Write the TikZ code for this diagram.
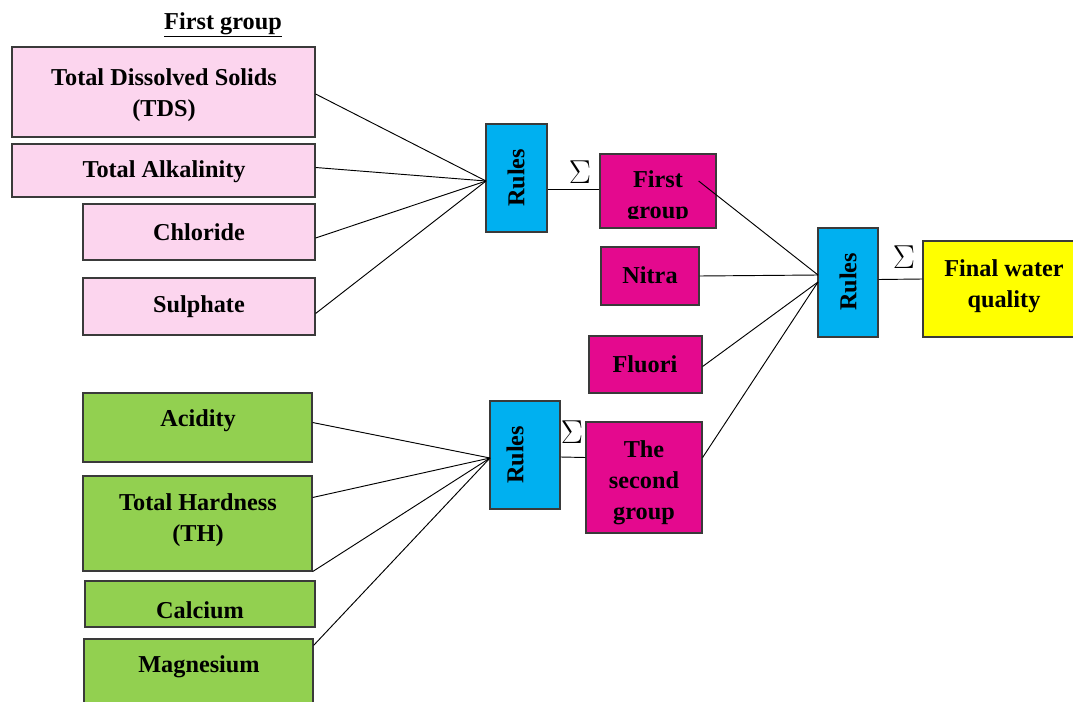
\documentclass[tikz,border=0pt]{standalone}
\usepackage{fontspec}
\setmainfont{Liberation Serif}
\usetikzlibrary{calc}
\definecolor{lpink}{HTML}{FCD5EE}
\definecolor{mag}{HTML}{E4098E}
\definecolor{cyanb}{HTML}{00B0F0}
\definecolor{grn}{HTML}{92D050}
\definecolor{yel}{HTML}{FFFF00}
\definecolor{edgec}{HTML}{3A3A3A}
\newcommand\bx[6]{\node[#6, minimum width={(#4-#2)*0.75pt}, minimum height={(#5-#3)*0.75pt}] (#1) at ({(#2+#4)/2},{(#3+#5)/2}) {};}
\tikzset{
  box/.style={draw=edgec, line width=0.9pt, inner sep=0pt, rectangle},
  pinkbox/.style={box, fill=lpink},
  magbox/.style={box, fill=mag},
  rulebox/.style={box, fill=cyanb},
  grnbox/.style={box, fill=grn},
  yelbox/.style={box, fill=yel},
  basetxt/.style={font=\fontsize{18.2}{23.3}\selectfont\bfseries, align=center, inner sep=0pt},
  txt/.style={basetxt, yshift=-2.3pt},
  rtxt/.style={basetxt, rotate=90},
  wire/.style={draw=black, line width=0.7pt},
  sig/.style={inner sep=0pt, font=\fontsize{24}{26}\selectfont}
}
\begin{document}
\begin{tikzpicture}[x=0.75pt,y=-0.75pt]
\useasboundingbox (0,0) rectangle (1073,702);
% first group inputs
\bx{tds}{12}{47}{315}{137}{pinkbox}
\bx{alk}{12}{144}{315}{197}{pinkbox}
\bx{chl}{83}{204}{315}{260}{pinkbox}
\bx{sul}{83}{278}{315}{335}{pinkbox}
% second group inputs
\bx{acid}{83}{393}{312}{462}{grnbox}
\bx{th}{83}{476}{312}{571}{grnbox}
\bx{cal}{85}{581}{315}{627}{grnbox}
\bx{mg}{84}{639}{313}{708}{grnbox}
% rules
\bx{r1}{486}{124}{547}{232}{rulebox}
\bx{r2}{490}{401}{560}{509}{rulebox}
\bx{r3}{818}{228}{878}{337}{rulebox}
% intermediate
\bx{fg}{600}{154}{716}{228}{magbox}
\bx{nit}{601}{247}{699}{305}{magbox}
\bx{flu}{589}{336}{702}{393}{magbox}
\bx{sg}{586}{422}{702}{533}{magbox}
\bx{fin}{923}{241}{1078}{337}{yelbox}
% convergence points
\coordinate (c1) at (486,181);
\coordinate (c2) at (490,458);
\coordinate (c3a) at (818,275);
\coordinate (c3b) at (818,282);
% wires group 1
\draw[wire] ($(tds.east)+(0,2)$) -- (c1);
\draw[wire] ($(alk.east)+(0,-3)$) -- (c1);
\draw[wire] ($(chl.east)+(0,6)$) -- (c1);
\draw[wire] ($(sul.east)+(0,7)$) -- (c1);
% wires group 2
\draw[wire] ($(acid.east)+(0,-5)$) -- (c2);
\draw[wire] ($(th.east)+(0,-26)$) -- (c2);
\draw[wire] (th.south east) -- (c2);
\draw[wire] ($(mg.north east)+(0,7)$) -- (c2);
% sums
\draw[wire] ($(r1.east)+(0,11)$) -- ($(fg.west)+(0,-2)$);
\draw[wire] ($(r2.east)+(0,2)$) -- ($(sg.west)+(0,-20)$);
\draw[wire] ($(r3.east)+(0,-3)$) -- ($(fin.west)+(0,-10)$);
% wires to rules 3
\draw[wire] ($(fg.east)+(-18,-10)$) -- (c3a);
\draw[wire] (nit.east) -- (c3a);
\draw[wire] ($(flu.east)+(0,2)$) -- (c3b);
\draw[wire] ($(sg.east)+(0,-20)$) -- (c3b);
% sigma labels
\node[sig] (s1) at (580,172) {$\Sigma$};
\node[sig] (s2) at (572,432) {$\Sigma$};
\node[sig] (s3) at (904,257) {$\Sigma$};
% texts
\node[txt] (title) at (223,22) {\underline{First group}};
\node[txt] at (164,92) {Total Dissolved Solids\\(TDS)};
\node[txt] at (164,169) {Total Alkalinity};
\node[txt] at (199,229) {Chloride};
\node[txt] at (199,304) {Sulphate};
\node[txt] at (198,418) {Acidity};
\node[txt] at (198,517) {Total Hardness\\(TH)};
\node[txt] at (200,607) {Calcium};
\node[txt] at (199,664) {Magnesium};
\node[rtxt] at (516,178) {Rules};
\node[rtxt] at (515,455) {Rules};
\node[rtxt] at (848,282) {Rules};
\begin{scope}
\clip (600,154) rectangle (716,219);
\node[txt] at (658,194) {First\\group};
\end{scope}
\node[txt] at (650,272) {Nitra};
\node[txt] at (645,361) {Fluori};
\node[txt] at (644,479.5) {The\\second\\group};
\node[txt] at (1004,283) {Final water\\quality};
\end{tikzpicture}
\end{document}
